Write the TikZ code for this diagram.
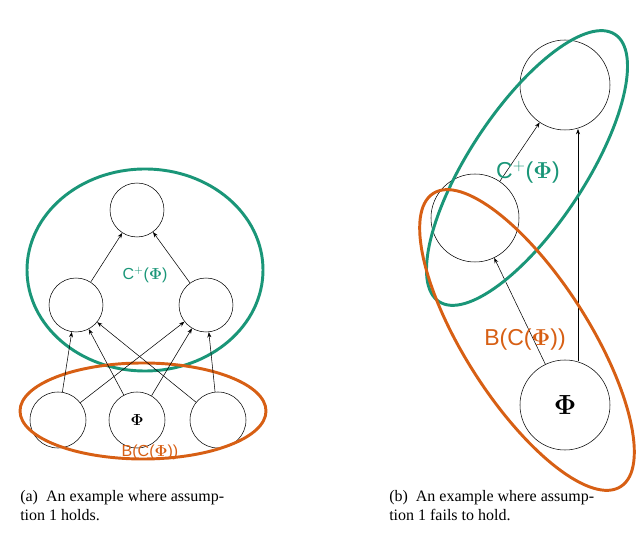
\documentclass[tikz,border=0pt]{standalone}
\usepackage{amsmath,amssymb,bm}
\usepackage{fontspec}
\setmainfont{Liberation Serif}
\newfontfamily\lab{Liberation Sans}
\usetikzlibrary{arrows.meta}
\definecolor{gr}{RGB}{26,150,120}
\definecolor{og}{RGB}{215,95,20}
\begin{document}
\begin{tikzpicture}[x=0.75pt,y=-0.75pt,
  cir/.style={draw,circle,inner sep=0pt},
  ar/.style={-{Stealth[length=4pt,width=3pt]},thin}]
\useasboundingbox (0,0) rectangle (640,548);
% left
\node[cir,minimum size=54*0.75pt] (t) at (137,210) {};
\node[cir,minimum size=54*0.75pt] (ml) at (76,305) {};
\node[cir,minimum size=54*0.75pt] (mr) at (206,305) {};
\node[cir,minimum size=56*0.75pt] (bl) at (58,420) {};
\node[cir,minimum size=56*0.75pt] (bc) at (137,420) {\large $\bm{\Phi}$};
\node[cir,minimum size=56*0.75pt] (br) at (218,420) {};
\draw[gr,line width=2.2pt] (145,270) ellipse [x radius=118*0.75pt,y radius=101*0.75pt];
\draw[og,line width=2.2pt] (143,411) ellipse [x radius=123*0.75pt,y radius=48*0.75pt];
\foreach \a/\b in {ml/t,mr/t,bl/ml,bl/mr,bc/ml,bc/mr,br/ml,br/mr}
  \draw[ar] (\a) -- (\b);
\node[gr,font=\lab\large] (lc) at (145,275) {C$^+$($\bm{\Phi}$)};
\node[og,font=\lab\large] (lb) at (150,452) {B(C($\bm{\Phi}$))};
% right
\node[cir,minimum size=90*0.75pt] (T) at (565,85) {};
\node[cir,minimum size=88*0.75pt] (M) at (475,218) {};
\node[cir,minimum size=90*0.75pt] (B) at (565,405) {\huge $\bm{\Phi}$};
\draw[ar] (M) -- (T);
\draw[ar] (B) -- (M);
\coordinate (b1) at (578,361);
\coordinate (t1) at (578,129);
\draw[ar] (b1) -- (t1);
\draw[gr,line width=2.2pt,rotate around={56.6:(527,168)}] (527,168) ellipse [x radius=160*0.75pt,y radius=58*0.75pt];
\draw[og,line width=2.2pt,rotate around={-57.4:(527,340)}] (527,340) ellipse [x radius=174*0.75pt,y radius=62*0.75pt];
\node[gr,font=\lab\LARGE] (rc) at (528,172) {C$^+$($\bm{\Phi}$)};
\node[og,font=\lab\LARGE] (rb) at (525,340) {B(C($\bm{\Phi}$))};
% captions
\node[anchor=north west,align=left,font=\large,inner sep=0pt] (ca) at (20,490) {(a)\ \ An example where assump-\\tion 1 holds.};
\node[anchor=north west,align=left,font=\large,inner sep=0pt] (cb) at (389,490) {(b)\ \ An example where assump-\\tion 1 fails to hold.};
\end{tikzpicture}
\end{document}
